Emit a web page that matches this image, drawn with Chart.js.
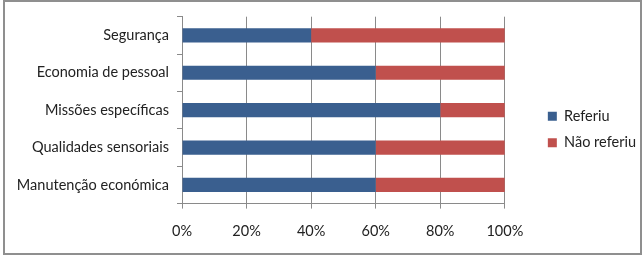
<!DOCTYPE html>
<html><head><meta charset="utf-8">
<script src="https://cdn.jsdelivr.net/npm/chart.js@4/dist/chart.umd.min.js"></script>
<style>html,body{margin:0;padding:0;background:#fff}#wrap{position:absolute;left:0;top:0;width:643px;height:256px}</style>
</head><body><div id="wrap"><canvas id="c" width="643" height="256"></canvas></div>
<script>
const categories = ["Segurança","Economia de pessoal","Missões específicas","Qualidades sensoriais","Manutenção económica"];
const seriesNames = ["Referiu","Não referiu"];
const referiu = [40,60,80,60,60];
const naoReferiu = [60,40,20,40,40];
const xTicks = ["0%","20%","40%","60%","80%","100%"];

const FONT = "Lato";
const FS = 14.5;
const border = {id:'frame', beforeDraw(c){const x=c.ctx;x.save();x.fillStyle='#fff';x.fillRect(0,0,c.width,c.height);x.strokeStyle='#8f8f8f';x.lineWidth=2;x.strokeRect(4,1,637,253);x.restore();}};

new Chart(document.getElementById('c'), {
  type:'bar',
  data:{labels:categories, datasets:[
    {label:seriesNames[0], data:referiu, backgroundColor:'#3A5F8F', borderWidth:0, barPercentage:0.38, categoryPercentage:1},
    {label:seriesNames[1], data:naoReferiu, backgroundColor:'#C0504D', borderWidth:0, barPercentage:0.38, categoryPercentage:1}
  ]},
  options:{
    indexAxis:'y', responsive:false, animation:false,
    layout:{padding:{left:0,right:0,top:16,bottom:13}},
    plugins:{
      legend:{position:'right', align:'center', labels:{boxWidth:9, boxHeight:9, padding:12, color:'#222', font:{family:FONT,size:FS}}},
      tooltip:{enabled:false}
    },
    scales:{
      x:{stacked:true, min:0, max:100,
        afterFit(s){s.height-=11;},
        ticks:{stepSize:20, color:'#222', padding:14, font:{family:FONT,size:FS}, callback:(v,i)=>xTicks[i]},
        grid:{color:'#8a8a8a', tickLength:5, tickColor:'#8a8a8a'},
        border:{color:'#8a8a8a'}
      },
      y:{stacked:true,
        afterFit(s){s.width=182;},
        ticks:{color:'#222', padding:8, font:{family:FONT,size:FS}},
        grid:{offset:true, drawOnChartArea:false, tickLength:5, color:'#8a8a8a'},
        border:{color:'#8a8a8a'}
      },
      yd:{position:'right', display:true, afterFit(s){s.width=31;},
        ticks:{display:false}, grid:{display:false}, border:{display:false}}
    }
  },
  plugins:[border]
});
</script></body></html>
